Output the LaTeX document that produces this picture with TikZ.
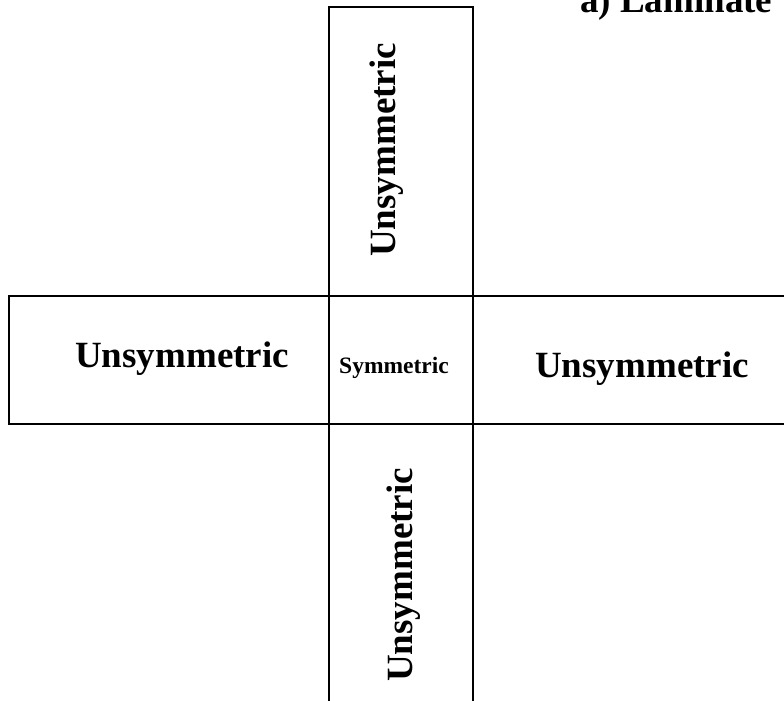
\documentclass[tikz,border=0pt]{standalone}
\usepackage{fontspec}
\setmainfont{Liberation Serif}
\tikzset{
  frame/.style={draw=black, line width=1.6pt},
  bigtxt/.style={font=\fontsize{37}{40}\selectfont\bfseries, inner sep=0pt, anchor=base west},
  smalltxt/.style={font=\fontsize{23.5}{26}\selectfont\bfseries, inner sep=0pt, anchor=base west}
}
\begin{document}
\begin{tikzpicture}[x=1pt,y=-1pt]
\useasboundingbox (0,0) rectangle (784,701);
% boxes
\draw[frame] (329,720) -- (329,7) -- (473,7) -- (473,720);
\draw[frame] (800,296) -- (9,296) -- (9,424) -- (800,424);
% texts
\node[bigtxt, rotate=90] (top) at (395,257) {Unsymmetric};
\node[bigtxt] (left) at (75,367) {Unsymmetric};
\node[smalltxt] (center) at (339,373) {Symmetric};
\node[bigtxt] (right) at (535,377) {Unsymmetric};
\node[bigtxt, rotate=90] (bottom) at (412,682) {Unsymmetric};
\node[bigtxt] (title) at (580,13) {a) Laminate};
\end{tikzpicture}
\end{document}
